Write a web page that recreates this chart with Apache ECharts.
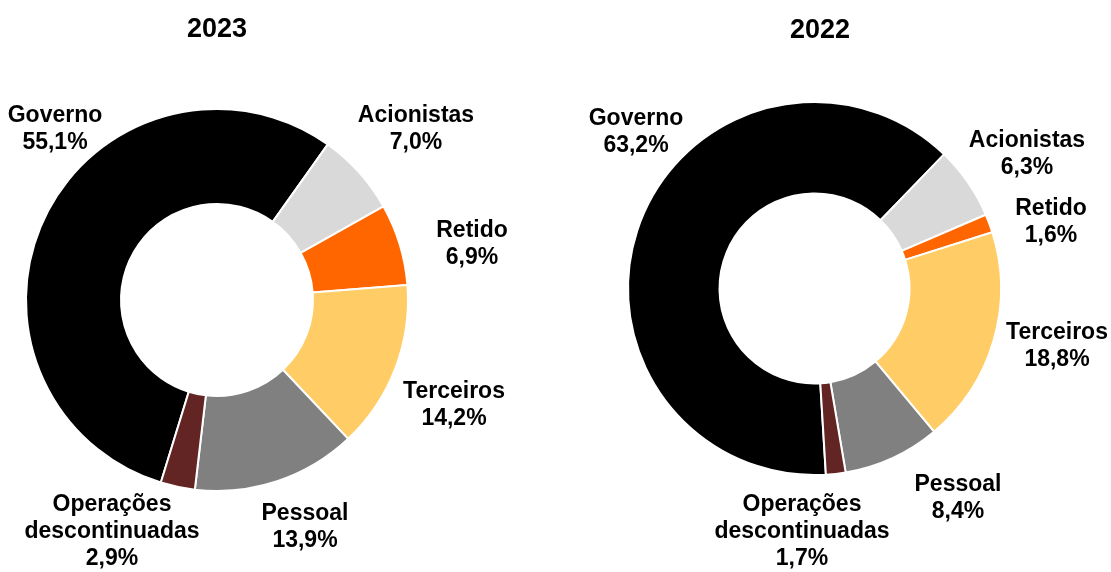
<!DOCTYPE html>
<html>
<head>
<meta charset="utf-8">
<title>Distribuição do valor adicionado</title>
<script src="https://cdn.jsdelivr.net/npm/echarts@6/dist/echarts.min.js"></script>
<style>
    html, body {
        margin: 0;
        padding: 0;
        background: #fff;
    }

    #chart {
        width: 1111px;
        height: 572px;
    }
</style>
</head>
<body>
<div id="chart"></div>
<script>
// dados (%)
const categorias = ['Governo', 'Acionistas', 'Retido', 'Terceiros', 'Pessoal', 'Operações descontinuadas']
const valores2023 = [55.1, 7.0, 6.9, 14.2, 13.9, 2.9]
const valores2022 = [63.2, 6.3, 1.6, 18.8, 8.4, 1.7]
const anos = ['2023', '2022']
const cores = ['#000000', '#D9D9D9', '#FF6600', '#FFCC66', '#808080', '#632523']

// posição dos rótulos (centro do bloco de texto), por gráfico
const rotulos = [
    [[55, 129], [416, 129], [472, 244], [454, 405], [305, 527], [112, 532]],
    [[636, 132], [1027, 154], [1051, 222], [1057, 346], [958, 498], [802, 532]],
]

const fonte = 'Liberation Sans, Arial, sans-serif'

const formatar = (p) => {
    const nome = p.name.replace(' ', '\n')
    return nome + '\n' + p.value.toFixed(1).replace('.', ',') + '%'
}

const montarSerie = (valores, centro, raio, inicio, idx) => ({
    type: 'pie',
    center: centro,
    radius: raio,
    startAngle: inicio,
    clockwise: true,
    avoidLabelOverlap: false,
    data: categorias.map((nome, i) => ({ name: nome, value: valores[i] })),
    itemStyle: {
        borderColor: '#fff',
        borderWidth: 2,
    },
    label: {
        show: true,
        position: 'outside',
        formatter: formatar,
        color: '#000',
        fontFamily: fonte,
        fontWeight: 'bold',
        fontSize: 23,
        lineHeight: 27,
        align: 'center',
    },
    labelLine: { show: false },
    labelLayout: (params) => {
        const pos = rotulos[idx][params.dataIndex]
        return {
            x: pos[0],
            y: pos[1],
            align: 'center',
            verticalAlign: 'middle',
            hideOverlap: false,
        }
    },
    emphasis: { disabled: true },
})

const chartDom = document.getElementById('chart')
const myChart = echarts.init(chartDom)

const option = {
    animation: false,
    color: cores,
    title: [
        {
            text: anos[0],
            left: 212,
            top: 11,
            textAlign: 'center',
            textStyle: { fontFamily: fonte, fontWeight: 'bold', fontSize: 27, color: '#000' },
        },
        {
            text: anos[1],
            left: 815,
            top: 12,
            textAlign: 'center',
            textStyle: { fontFamily: fonte, fontWeight: 'bold', fontSize: 27, color: '#000' },
        },
    ],
    series: [
        montarSerie(valores2023, [217, 300], [96, 191], 252.9, 0),
        montarSerie(valores2022, [814.5, 288.5], [95, 186.5], 273.5, 1),
    ],
}

myChart.setOption(option)
</script>
</body>
</html>
